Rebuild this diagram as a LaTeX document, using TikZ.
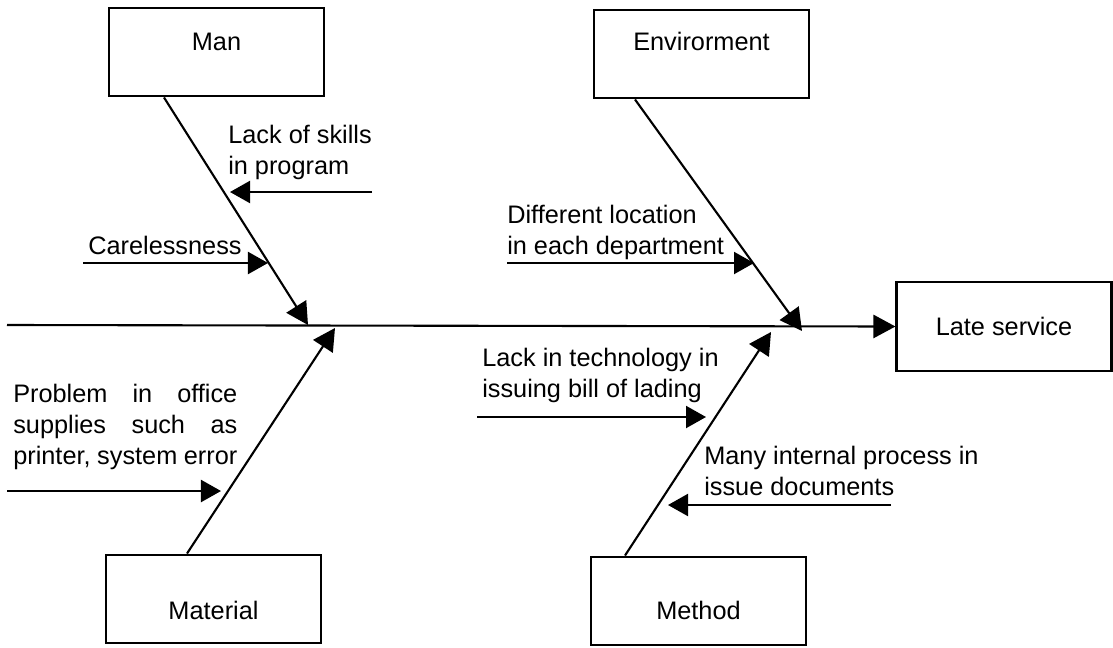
\documentclass[tikz,border=0pt]{standalone}
\usepackage{fontspec}
\setmainfont{Liberation Sans}
\usetikzlibrary{arrows.meta, positioning}

\begin{document}
\begin{tikzpicture}[x=0.025cm, y=-0.025cm,
    font=\fontsize{18}{22}\selectfont,
    catbox/.style={draw, line width=1.5pt, minimum width=5.375cm, minimum height=2.22cm, inner sep=0pt},
    bone/.style={line width=1.5pt, -{Triangle[length=0.55cm, width=0.58cm]}},
    causearrow/.style={line width=1.5pt, -{Triangle[length=0.5cm, width=0.55cm]}},
    causetext/.style={align=left, anchor=west, inner sep=0pt}]
  \useasboundingbox (0,0) rectangle (1113,647);
  % Category boxes
  \node[catbox, label={[yshift=7pt]center:Man}] (man) at (216.5,52) {};
  \node[catbox, label={[yshift=9pt]center:Envirorment}] (env) at (701.5,54) {};
  \node[catbox, label={[yshift=-8pt]center:Material}] (material) at (213.5,599) {};
  \node[catbox, label={[yshift=-7pt]center:Method}] (method) at (698.5,601) {};
  % Effect box
  \node[catbox] (late) at (1004,326.5) {Late service};
  % Spine
  \coordinate (tail) at (7,325);
  \draw[bone] (tail) -- (late.west);
  % Bone tips on the spine
  \coordinate (manTip) at (308,325);
  \coordinate (envTip) at (802,331);
  \coordinate (matTip) at (335,328);
  \coordinate (metTip) at (771,332);
  \draw[bone] (164,0 |- man.south) -- (manTip);
  \draw[bone] (635,0 |- env.south) -- (envTip);
  \draw[bone] (187,0 |- material.north) -- (matTip);
  \draw[bone] (625,0 |- method.north) -- (metTip);
  % Causes on Man
  \node[causetext] (skills) at (228,152) {Lack of skills\\in program};
  \coordinate (skillsFrom) at (372,192);
  \coordinate (skillsTo) at (230,192);
  \draw[causearrow] (skillsFrom) -- (skillsTo);
  \node[causetext] (careless) at (88,245) {Carelessness};
  \coordinate (carelessFrom) at (83,263);
  \coordinate (carelessTo) at (268,263);
  \draw[causearrow] (carelessFrom) -- (carelessTo);
  % Cause on Envirorment
  \node[causetext] (location) at (507,232) {Different location\\in each department};
  \coordinate (locationFrom) at (507,263);
  \coordinate (locationTo) at (754,263);
  \draw[causearrow] (locationFrom) -- (locationTo);
  % Cause on Material
  \node[causetext] (supplies) at (13,427) {%
    \makebox[5.6cm][s]{Problem in office}\\
    \makebox[5.6cm][s]{supplies such as}\\
    \makebox[5.6cm][s]{printer, system error}};
  \coordinate (suppliesFrom) at (7,491);
  \coordinate (suppliesTo) at (221,491);
  \draw[causearrow] (suppliesFrom) -- (suppliesTo);
  % Causes on Method
  \node[causetext] (tech) at (482,375) {Lack in technology in\\issuing bill of lading};
  \coordinate (techFrom) at (477,417);
  \coordinate (techTo) at (706,417);
  \draw[causearrow] (techFrom) -- (techTo);
  \node[causetext] (process) at (704,471) {Many internal process in\\issue documents};
  \coordinate (processFrom) at (891,505);
  \coordinate (processTo) at (668,505);
  \draw[causearrow] (processFrom) -- (processTo);
\end{tikzpicture}
\end{document}
